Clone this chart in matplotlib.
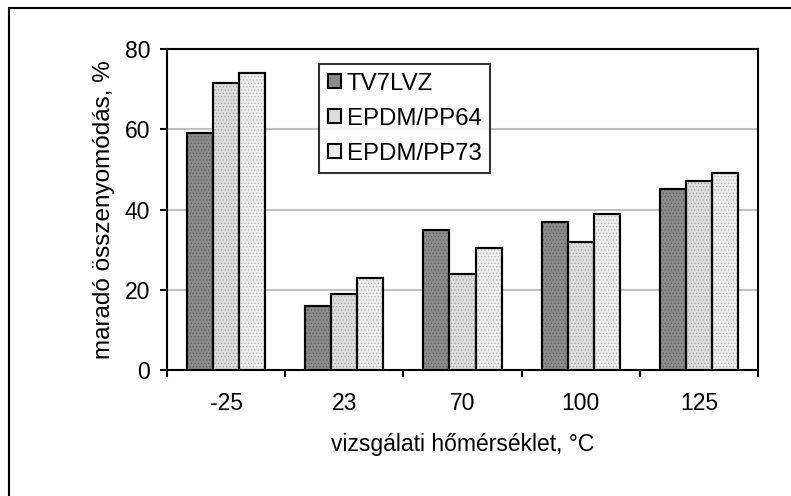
import numpy as np
import matplotlib.pyplot as plt
from matplotlib.patches import Rectangle

plt.rcParams['font.family'] = ['Liberation Sans', 'DejaVu Sans']
plt.rcParams['hatch.linewidth'] = 0.4

categories = ['-25', '23', '70', '100', '125']
series = ['TV7LVZ', 'EPDM/PP64', 'EPDM/PP73']
tv7lvz = [59, 16, 35, 37, 45]
pp64 = [71.5, 19, 24, 32, 47]
pp73 = [74, 23, 30.5, 39, 49]

faces = ['#8a8a8a', '#dcdcdc', '#ececec']
hatch_cols = ['#5a5a5a', '#9a9a9a', '#a8a8a8']
fs = 16.5

fig = plt.figure(figsize=(7.91, 4.96), dpi=100)
ax = fig.add_axes([0.2111, 0.254, 0.7472, 0.6472])

x = np.arange(len(categories))
w = 0.22
for i, (vals, name) in enumerate(zip([tv7lvz, pp64, pp73], series)):
    bars = ax.bar(x + (i - 1) * w, vals, w, facecolor=faces[i], edgecolor='black',
                  linewidth=1.5, label=name, zorder=3)
    for b in bars:
        ax.add_patch(Rectangle(b.get_xy(), b.get_width(), b.get_height(), fill=False,
                               hatch='.....', edgecolor=hatch_cols[i], linewidth=0, zorder=3.5))
        ax.add_patch(Rectangle(b.get_xy(), b.get_width(), b.get_height(), fill=False,
                               edgecolor='black', linewidth=1.5, zorder=4))

ax.set_xlim(-0.5, 4.5)
ax.set_ylim(0, 80)
ax.set_yticks([0, 20, 40, 60, 80])
ax.yaxis.grid(True, color='#c0c0c0', linewidth=1.5, zorder=0)
ax.set_axisbelow(True)

ax.set_xticks(x)
ax.set_xticklabels(categories)
ax.set_xticks(np.arange(-0.5, 5, 1), minor=True)
ax.tick_params(axis='x', which='major', length=0, pad=16, labelsize=fs)
ax.tick_params(axis='x', which='minor', length=5, width=1.5, direction='out')
ax.tick_params(axis='y', length=5, width=1.5, direction='out', pad=7, labelsize=fs)

for s in ax.spines.values():
    s.set_linewidth(1.5)
    s.set_color('black')

ax.set_ylabel('maradó összenyomódás, %', fontsize=17.5, labelpad=7)
ax.set_xlabel('vizsgálati hőmérséklet, °C', fontsize=fs, labelpad=13)

leg = ax.legend(loc='upper left', bbox_to_anchor=(0.257, 0.953), fontsize=17.3,
                frameon=True, fancybox=False, edgecolor='black', handlelength=0.55,
                handleheight=0.55, handletextpad=0.25, labelspacing=0.54,
                borderpad=0.36, borderaxespad=0)
leg.get_frame().set_linewidth(1.5)
leg.set_zorder(10)

fig.patches.append(Rectangle((9 / 791, -0.05), 1.2, 1 - 8 / 496 + 0.05, fill=False,
                             edgecolor='black', linewidth=1.5,
                             transform=fig.transFigure, figure=fig))

fig.savefig('out.png', dpi=100)
